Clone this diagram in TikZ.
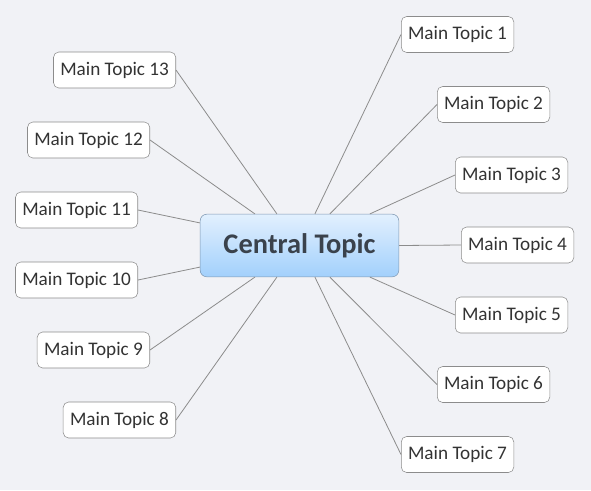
\documentclass[tikz,border=0pt]{standalone}
\usepackage{fontspec}
\setmainfont{Carlito}
\usetikzlibrary{calc}
\definecolor{bgcol}{HTML}{F1F2F6}
\definecolor{edgecol}{HTML}{8C8C8C}
\definecolor{ctTop}{HTML}{E2F0FE}
\definecolor{ctBot}{HTML}{A2D0FC}
\definecolor{ctLine}{HTML}{7F98B2}
\definecolor{ctText}{HTML}{3A424C}
\tikzset{
  topic/.style={draw=edgecol, fill=white, rounded corners=4pt, text=black!80,
    font=\fontsize{14.4}{16}\selectfont, inner xsep=5.1pt, minimum height=27pt},
  central/.style={draw=ctLine, top color=ctTop, bottom color=ctBot, rounded corners=5pt,
    text=ctText, font=\fontsize{21.3}{24}\selectfont\bfseries, minimum width=149pt, minimum height=47pt},
  branch/.style={draw=edgecol, line width=0.6pt}
}
\begin{document}
\begin{tikzpicture}[x=0.75pt,y=-0.75pt]
  \fill[bgcol] (0,0) rectangle (591,490);
  \node[central] (ct) at (299.5,245.5) {Central Topic};
  % right side
  \node[topic, anchor=west] (t1) at (401,34.5) {Main Topic 1};
  \node[topic, anchor=west] (t2) at (437,104.5) {Main Topic 2};
  \node[topic, anchor=west] (t3) at (455,175) {Main Topic 3};
  \node[topic, anchor=west] (t4) at (461,245) {Main Topic 4};
  \node[topic, anchor=west] (t5) at (455,315) {Main Topic 5};
  \node[topic, anchor=west] (t6) at (437,384.5) {Main Topic 6};
  \node[topic, anchor=west] (t7) at (401,454.5) {Main Topic 7};
  % left side
  \node[topic, anchor=east] (t8) at (176,420) {Main Topic 8};
  \node[topic, anchor=east] (t9) at (150,350) {Main Topic 9};
  \node[topic, anchor=east] (t10) at (138,280) {Main Topic 10};
  \node[topic, anchor=east] (t11) at (138,210) {Main Topic 11};
  \node[topic, anchor=east] (t12) at (150,140) {Main Topic 12};
  \node[topic, anchor=east] (t13) at (176,70) {Main Topic 13};
  \draw[branch] ($(ct.north west)+(115,0)$) -- (t1.west);
  \draw[branch] ($(ct.north west)+(130,0)$) -- (t2.west);
  \draw[branch] ($(ct.north west)+(170,0)$) -- (t3.west);
  \draw[branch] (ct.east) -- (t4.west);
  \draw[branch] ($(ct.south west)+(170,0)$) -- (t5.west);
  \draw[branch] ($(ct.south west)+(130,0)$) -- (t6.west);
  \draw[branch] ($(ct.south west)+(115,0)$) -- (t7.west);
  \draw[branch] ($(ct.south west)+(77,0)$) -- (t8.east);
  \draw[branch] ($(ct.south west)+(55,0)$) -- (t9.east);
  \draw[branch] ($(ct.south west)+(0,-10)$) -- (t10.east);
  \draw[branch] ($(ct.north west)+(0,9)$) -- (t11.east);
  \draw[branch] ($(ct.north west)+(55,0)$) -- (t12.east);
  \draw[branch] ($(ct.north west)+(77,0)$) -- (t13.east);
\end{tikzpicture}
\end{document}
